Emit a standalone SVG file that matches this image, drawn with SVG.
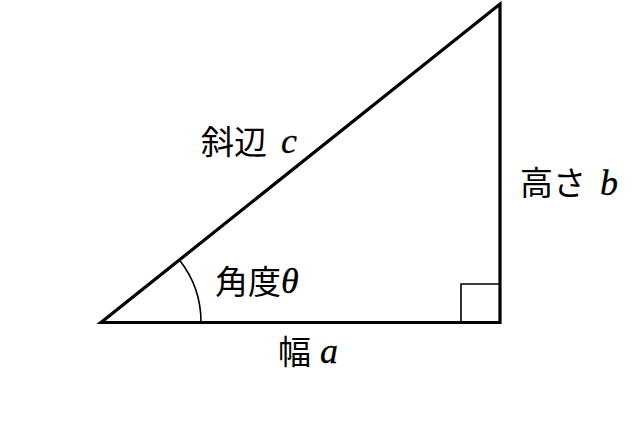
<svg xmlns="http://www.w3.org/2000/svg" width="642" height="424" viewBox="0 0 642 424">
<style>
.edge{fill:none;stroke:#000;stroke-width:3.2;stroke-linecap:butt;stroke-linejoin:miter}
.thin{fill:none;stroke:#000;stroke-width:1.6}
.lbl{font-family:"Noto Sans CJK JP","Noto Sans",sans-serif;font-size:33px;fill:#000}
.m{font-family:"Liberation Serif",serif;font-style:italic;font-size:36px;stroke:#000;stroke-width:0.3}
</style>
<rect width="642" height="424" fill="#fff"/>
<g id="connectors">
<path class="edge" d="M101,322.5 L500,322.5 L500,4 Z"/>
<path class="thin" d="M461,322 L461,284 L500,284"/>
<path class="thin" d="M201,322 A100,100 0 0 0 179.2,259.7"/>
</g>
<g id="hyp"><text class="lbl" x="201" y="154">斜辺 <tspan class="m" x="281" y="153">c</tspan></text></g>
<g id="height"><text class="lbl" x="520" y="195">高さ <tspan class="m" x="600" y="195">b</tspan></text></g>
<g id="angle"><text class="lbl" x="215" y="294">角度<tspan class="m" x="281" y="293">θ</tspan></text></g>
<g id="width"><text class="lbl" x="278" y="364">幅 <tspan class="m" x="320" y="363">a</tspan></text></g>
</svg>
